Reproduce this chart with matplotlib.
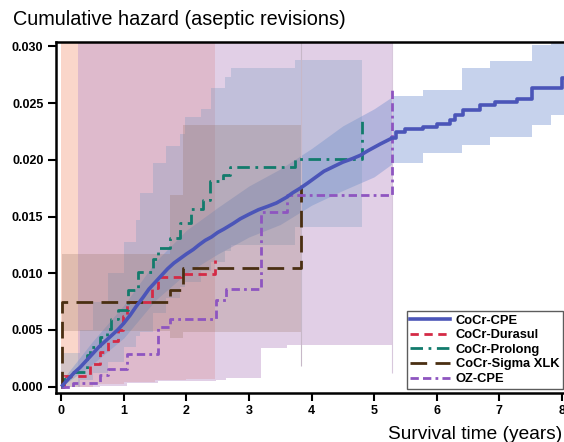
import numpy as np
import matplotlib
matplotlib.use("Agg")
import matplotlib.pyplot as plt

plt.rcParams['font.family'] = ['Liberation Sans', 'DejaVu Sans']

# ---- data (time in years, cumulative hazard) ----
cpe_t = [0, 0.1, 0.2, 0.3, 0.4, 0.5, 0.6, 0.7, 0.8, 0.9, 1.0, 1.1, 1.2, 1.31,
         1.4, 1.5, 1.6, 1.7, 1.8, 1.9, 2.0, 2.11, 2.2, 2.3, 2.4, 2.5, 2.6, 2.75,
         2.86, 3.0, 3.15, 3.3, 3.44, 3.6, 3.7, 3.82, 3.95, 4.1, 4.2, 4.35, 4.5,
         4.65, 4.78, 4.9, 5.0, 5.1, 5.28, 5.35, 5.5, 5.78, 6.0, 6.21, 6.3, 6.42,
         6.69, 6.93, 7.28, 7.52, 8.0, 8.3]
cpe_v = [0, 0.0006, 0.0012, 0.0017, 0.0023, 0.0029, 0.0035, 0.0040, 0.0045,
         0.0050, 0.0056, 0.0063, 0.0071, 0.0079, 0.0086, 0.0092, 0.0098, 0.0104,
         0.0109, 0.0113, 0.0117, 0.0121, 0.0125, 0.0129, 0.0132, 0.0136, 0.0139,
         0.0144, 0.0148, 0.0152, 0.0156, 0.0159, 0.0162, 0.0167, 0.0171, 0.0175,
         0.0180, 0.0186, 0.0190, 0.0194, 0.0198, 0.0201, 0.0204, 0.0208, 0.0211,
         0.0214, 0.0219, 0.0225, 0.0227, 0.0229, 0.0232, 0.0235, 0.0240, 0.0244,
         0.0248, 0.0251, 0.0254, 0.0263, 0.0272, 0.0272]
cpe_ci_t = [0, 0.5, 1.0, 1.5, 2.0, 2.5, 3.0, 3.5, 4.0, 4.5, 5.0, 5.3, 5.79,
            6.4, 6.85, 7.52, 7.83, 8.3]
cpe_ci_lo = [0, 0.0020, 0.0043, 0.0076, 0.0100, 0.0117, 0.0132, 0.0143, 0.0160,
             0.0173, 0.0185, 0.0197, 0.0206, 0.0213, 0.0220, 0.0231, 0.0240, 0.0240]
cpe_ci_hi = [0.0005, 0.0040, 0.0072, 0.0110, 0.0138, 0.0158, 0.0177, 0.0192,
             0.0210, 0.0230, 0.0245, 0.0256, 0.0262, 0.0281, 0.0287, 0.0301,
             0.0315, 0.0315]

dur_t = [0, 0.05, 0.46, 0.62, 0.75, 0.91, 0.99, 1.05, 1.45, 1.55, 1.92, 2.46]
dur_v = [0, 0.00097, 0.0020, 0.0031, 0.0040, 0.0050, 0.0062, 0.0075, 0.0087,
         0.0097, 0.0099, 0.0112]
dur_ci_t = [0, 0.5, 1.0, 1.5, 2.0, 2.46]
dur_ci_lo = [0, 0.0002, 0.0004, 0.0006, 0.0007, 0.0008]
dur_ci_hi = [0.035, 0.035, 0.035, 0.035, 0.035, 0.035]

pro_t = [0, 0.03, 0.14, 0.41, 0.46, 0.62, 0.73, 0.8, 0.91, 1.07, 1.23, 1.47,
         1.55, 1.74, 1.90, 2.08, 2.27, 2.38, 2.59, 2.70, 3.74, 4.80]
pro_v = [0, 0.0007, 0.0013, 0.0028, 0.0035, 0.0044, 0.0051, 0.0060, 0.0068,
         0.0085, 0.0101, 0.0113, 0.0122, 0.0131, 0.0144, 0.0157, 0.0165, 0.0181,
         0.0187, 0.0194, 0.0201, 0.0235]
pro_ci_t = [0, 0.3, 0.5, 0.75, 1.0, 1.2, 1.26, 1.47, 1.68, 1.9, 1.98, 2.24,
            2.4, 2.62, 2.72, 3.74, 4.8]
pro_ci_lo = [0, 0.0006, 0.0012, 0.0022, 0.0035, 0.0045, 0.0048, 0.0065, 0.0078,
             0.0088, 0.0092, 0.0102, 0.0110, 0.0120, 0.0125, 0.0141, 0.0141]
pro_ci_hi = [0.003, 0.005, 0.0075, 0.0100, 0.0128, 0.0147, 0.0171, 0.0197,
             0.0212, 0.0223, 0.0238, 0.0245, 0.0263, 0.0273, 0.0281, 0.0288, 0.0288]

sig_t = [0, 0.01, 1.74, 1.95, 3.84]
sig_v = [0, 0.0075, 0.0085, 0.0105, 0.0182]
sig_ci_t = [0.01, 1.73, 1.95, 3.84]
sig_ci_lo = [0.0049, 0.0043, 0.00485, 0.00485]
sig_ci_hi = [0.0117, 0.0169, 0.0231, 0.0231]
sig_last_ci = (0.0018, 0.035)

oz_t = [0, 0.19, 0.62, 0.75, 1.05, 1.55, 1.74, 2.48, 2.64, 3.20, 3.61, 5.28]
oz_v = [0, 0.00035, 0.0010, 0.0016, 0.0029, 0.0053, 0.0060, 0.0076, 0.0086,
        0.0154, 0.0169, 0.0262]
oz_ci_t = [0.27, 0.62, 1.05, 1.55, 2.48, 2.64, 3.20, 3.61, 5.28]
oz_ci_lo = [0.0000, 0.0001, 0.0003, 0.0005, 0.0006, 0.0008, 0.0034, 0.0037, 0.0037]
oz_ci_hi = [0.035] * 9
oz_last_ci = (0.0012, 0.035)

labels = ["CoCr-CPE", "CoCr-Durasul", "CoCr-Prolong", "CoCr-Sigma XLK", "OZ-CPE"]

# ---- figure ----
W, H = 564, 442
fig = plt.figure(figsize=(W / 100, H / 100), dpi=100)
ax = fig.add_axes([56 / W, (H - 392.7) / H, 518.2 / W, 351.0 / H])

# confidence bands
ax.fill_between(dur_ci_t, dur_ci_lo, dur_ci_hi, step='post',
                color='#F0805A', alpha=0.32, lw=0)
ax.fill_between(oz_ci_t, oz_ci_lo, oz_ci_hi, step='post',
                color='#C4A0CE', alpha=0.5, lw=0)
# CoCr-CPE band: fine steps early (drawn smooth), coarse steps later
j = cpe_ci_t.index(5.3)
ax.fill_between(cpe_ci_t[:j + 1], cpe_ci_lo[:j + 1], cpe_ci_hi[:j + 1],
                color='#6989CD', alpha=0.38, lw=0)
ax.fill_between(cpe_ci_t[j:], cpe_ci_lo[j:], cpe_ci_hi[j:], step='post',
                color='#6989CD', alpha=0.38, lw=0)
ax.fill_between(pro_ci_t, pro_ci_lo, pro_ci_hi, step='post',
                color='#7A9CC0', alpha=0.3, lw=0)
ax.fill_between(sig_ci_t, sig_ci_lo, sig_ci_hi, step='post',
                color='#967060', alpha=0.25, lw=0)
ax.vlines(sig_t[-1], *sig_last_ci, color='#C7B8C8', lw=0.8)
ax.vlines(oz_t[-1], *oz_last_ci, color='#D8C8DC', lw=0.8)

# hazard curves; CoCr-CPE has many tiny steps up to ~5.3 years
k = cpe_t.index(5.28)
ax.plot(cpe_t[:k + 1], cpe_v[:k + 1], color='#4B55B8', lw=2.6, zorder=5,
        solid_capstyle='butt')
ax.step(cpe_t[k:], cpe_v[k:], where='post', color='#4B55B8', lw=2.6,
        label=labels[0], zorder=5)
ax.step(dur_t, dur_v, where='post', color='#D42A45', lw=2.0,
        linestyle=(0, (3, 2)), label=labels[1], zorder=4)
ax.step(pro_t, pro_v, where='post', color='#127B6C', lw=2.0,
        linestyle=(0, (4.5, 2, 1, 2)), label=labels[2], zorder=4)
ax.step(sig_t, sig_v, where='post', color='#4A2F12', lw=2.0,
        linestyle=(0, (6, 3)), label=labels[3], zorder=4)
ax.step(oz_t, oz_v, where='post', color='#8E55C0', lw=2.0,
        linestyle=(0, (3, 1.5, 3, 1.5, 1, 1.5)), label=labels[4], zorder=4)

ax.set_xlim(-0.085, 8.2)
ax.set_ylim(-0.00053, 0.03042)
ax.set_xticks(range(0, 9))
ax.set_yticks([0, 0.005, 0.010, 0.015, 0.020, 0.025, 0.030])
ax.set_yticklabels([f"{v:.3f}" for v in ax.get_yticks()])
ax.tick_params(direction='out', length=6, width=1.5, labelsize=9, pad=3)
for lab in ax.get_xticklabels() + ax.get_yticklabels():
    lab.set_fontweight('bold')
for sp in ax.spines.values():
    sp.set_linewidth(1.8)

leg = ax.legend(loc='lower right', bbox_to_anchor=(563 / W, (H - 389) / H),
                bbox_transform=fig.transFigure, frameon=True, fancybox=False,
                edgecolor='#333333', fontsize=9.3, handlelength=3.1,
                handletextpad=0.4, labelspacing=0.2, borderpad=0.3,
                borderaxespad=0)
leg.get_frame().set_linewidth(1.0)
for t in leg.get_texts():
    t.set_fontweight('bold')

fig.text(13 / W, 1 - 25 / H, "Cumulative hazard (aseptic revisions)",
         fontsize=14.3, va='baseline', ha='left')
fig.text(388 / W, 3 / H, "Survival time (years)", fontsize=13.8,
         va='baseline', ha='left')

fig.savefig("out.png", dpi=100)
